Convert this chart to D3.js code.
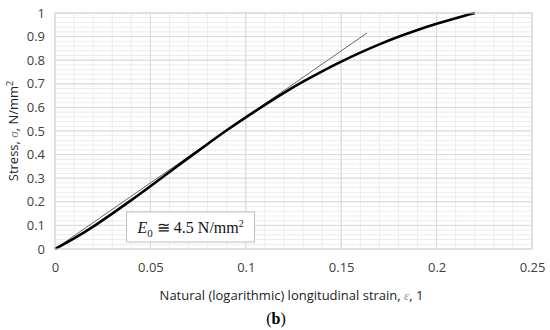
<!DOCTYPE html>
<html lang="en">
<head>
<meta charset="UTF-8">
<title>Stress vs natural strain</title>
<style>
  body { margin: 0; background: #fff; }
  svg text { font-family: "Open Sans", "Liberation Sans", sans-serif; }
</style>
</head>
<body>
<svg id="chart" width="550" height="330"></svg>
<script src="https://cdn.jsdelivr.net/npm/d3@7"></script>
<script>
// --- data ---
const strain = [0, 0.01, 0.02, 0.03, 0.04, 0.05, 0.06, 0.07, 0.08, 0.09, 0.1,
                0.11, 0.12, 0.13, 0.14, 0.15, 0.16, 0.17, 0.18, 0.19, 0.2, 0.21, 0.22];
const stress = [0, 0.045, 0.095, 0.150, 0.207, 0.266, 0.326, 0.386, 0.445, 0.503, 0.558,
                0.611, 0.662, 0.709, 0.753, 0.794, 0.832, 0.867, 0.899, 0.928, 0.954, 0.978, 1.0];
// thin tangent line (initial modulus)
const tangentX = [0, 0.1635];
const tangentY = [0, 0.915];

const xTicks = [0, 0.05, 0.1, 0.15, 0.2, 0.25];
const yTicks = [0, 0.1, 0.2, 0.3, 0.4, 0.5, 0.6, 0.7, 0.8, 0.9, 1];

const margin = { top: 13, right: 18, bottom: 81, left: 55 };
const W = 550, H = 330;
const width = W - margin.left - margin.right;
const height = H - margin.top - margin.bottom;

const svg = d3.select("#chart");
const g = svg.append("g").attr("transform", `translate(${margin.left},${margin.top})`);

const x = d3.scaleLinear().domain([0, 0.25]).range([0, width]);
const y = d3.scaleLinear().domain([0, 1]).range([height, 0]);

// minor grid
const minorX = d3.range(0, 0.2501, 0.01);
const minorY = d3.range(0, 1.0001, 0.02);
g.append("g").selectAll("line").data(minorX).join("line")
  .attr("x1", d => x(d)).attr("x2", d => x(d)).attr("y1", 0).attr("y2", height)
  .attr("stroke", "#ececec").attr("stroke-width", 1);
g.append("g").selectAll("line").data(minorY).join("line")
  .attr("y1", d => y(d)).attr("y2", d => y(d)).attr("x1", 0).attr("x2", width)
  .attr("stroke", "#ececec").attr("stroke-width", 1);

// major grid
g.append("g").selectAll("line").data(xTicks).join("line")
  .attr("x1", d => x(d)).attr("x2", d => x(d)).attr("y1", 0).attr("y2", height)
  .attr("stroke", "#d9d9d9").attr("stroke-width", 1);
g.append("g").selectAll("line").data(yTicks).join("line")
  .attr("y1", d => y(d)).attr("y2", d => y(d)).attr("x1", 0).attr("x2", width)
  .attr("stroke", "#d9d9d9").attr("stroke-width", 1);

// axes (labels only)
const xAxis = g.append("g").attr("transform", `translate(0,${height})`)
  .call(d3.axisBottom(x).tickValues(xTicks).tickFormat(d => String(+d.toFixed(2))).tickSize(0).tickPadding(14));
const yAxis = g.append("g")
  .call(d3.axisLeft(y).tickValues(yTicks).tickFormat(d => String(+d.toFixed(1))).tickSize(0).tickPadding(10));
[xAxis, yAxis].forEach(a => {
  a.select(".domain").remove();
  a.selectAll("text").attr("fill", "#404040").style("font-size", "13px")
    .style("font-family", "'Open Sans', sans-serif");
});

// tangent line
const line = d3.line().x(d => x(d[0])).y(d => y(d[1]));
g.append("path").datum(d3.zip(tangentX, tangentY))
  .attr("d", line).attr("fill", "none").attr("stroke", "#555").attr("stroke-width", 0.9);

// stress-strain curve
g.append("path").datum(d3.zip(strain, stress))
  .attr("d", line.curve(d3.curveNatural)).attr("fill", "none")
  .attr("stroke", "#000").attr("stroke-width", 2.6);

// annotation box
const box = g.append("g").attr("transform", `translate(${x(0.0375)},${y(0.157)})`);
box.append("rect").attr("width", 128).attr("height", 30)
  .attr("fill", "#fff").attr("stroke", "#bfbfbf").attr("stroke-width", 1);
const bt = box.append("text").attr("x", 11).attr("y", 21)
  .style("font-family", "'Liberation Serif', 'Times New Roman', serif").style("font-size", "16px").attr("fill", "#111");
bt.append("tspan").style("font-style", "italic").style("font-family", "'Liberation Serif', serif").text("E");
bt.append("tspan").attr("dy", 4).style("font-size", "11px").style("font-family", "'Liberation Serif', serif").text("0");
bt.append("tspan").attr("dy", -4).style("font-family", "'Liberation Serif', serif").text(" \u2245 4.5 N/mm");
bt.append("tspan").attr("dy", -6).style("font-size", "10px").style("font-family", "'Liberation Serif', serif").text("2");

// plot border
g.append("rect").attr("width", width).attr("height", height)
  .attr("fill", "none").attr("stroke", "#d9d9d9");

// y axis title
const yt = svg.append("text")
  .attr("transform", `translate(18,${margin.top + height / 2}) rotate(-90)`)
  .attr("text-anchor", "middle").attr("fill", "#222").style("font-size", "13px");
yt.append("tspan").text("Stress, ");
yt.append("tspan").style("font-style", "italic").style("font-family", "'Liberation Serif', serif")
  .attr("fill", "#777").text("\u03c3");
yt.append("tspan").text(", N/mm");
yt.append("tspan").attr("dy", -5).style("font-size", "9px").text("2");

// x axis title
const xt = svg.append("text")
  .attr("x", margin.left + width / 2 - 2).attr("y", 300)
  .attr("text-anchor", "middle").attr("fill", "#222").style("font-size", "13px");
xt.append("tspan").text("Natural (logarithmic) longitudinal strain, ");
xt.append("tspan").style("font-style", "italic").style("font-family", "'Liberation Serif', serif")
  .attr("fill", "#888").text("\u03b5");
xt.append("tspan").text(", 1");

// panel label
const pl = svg.append("text").attr("x", 276).attr("y", 324).attr("text-anchor", "middle")
  .style("font-family", "'Liberation Serif', serif").style("font-size", "16px").attr("fill", "#000");
pl.append("tspan").text("(");
pl.append("tspan").style("font-weight", "bold").text("b");
pl.append("tspan").text(")");
</script>
</body>
</html>
